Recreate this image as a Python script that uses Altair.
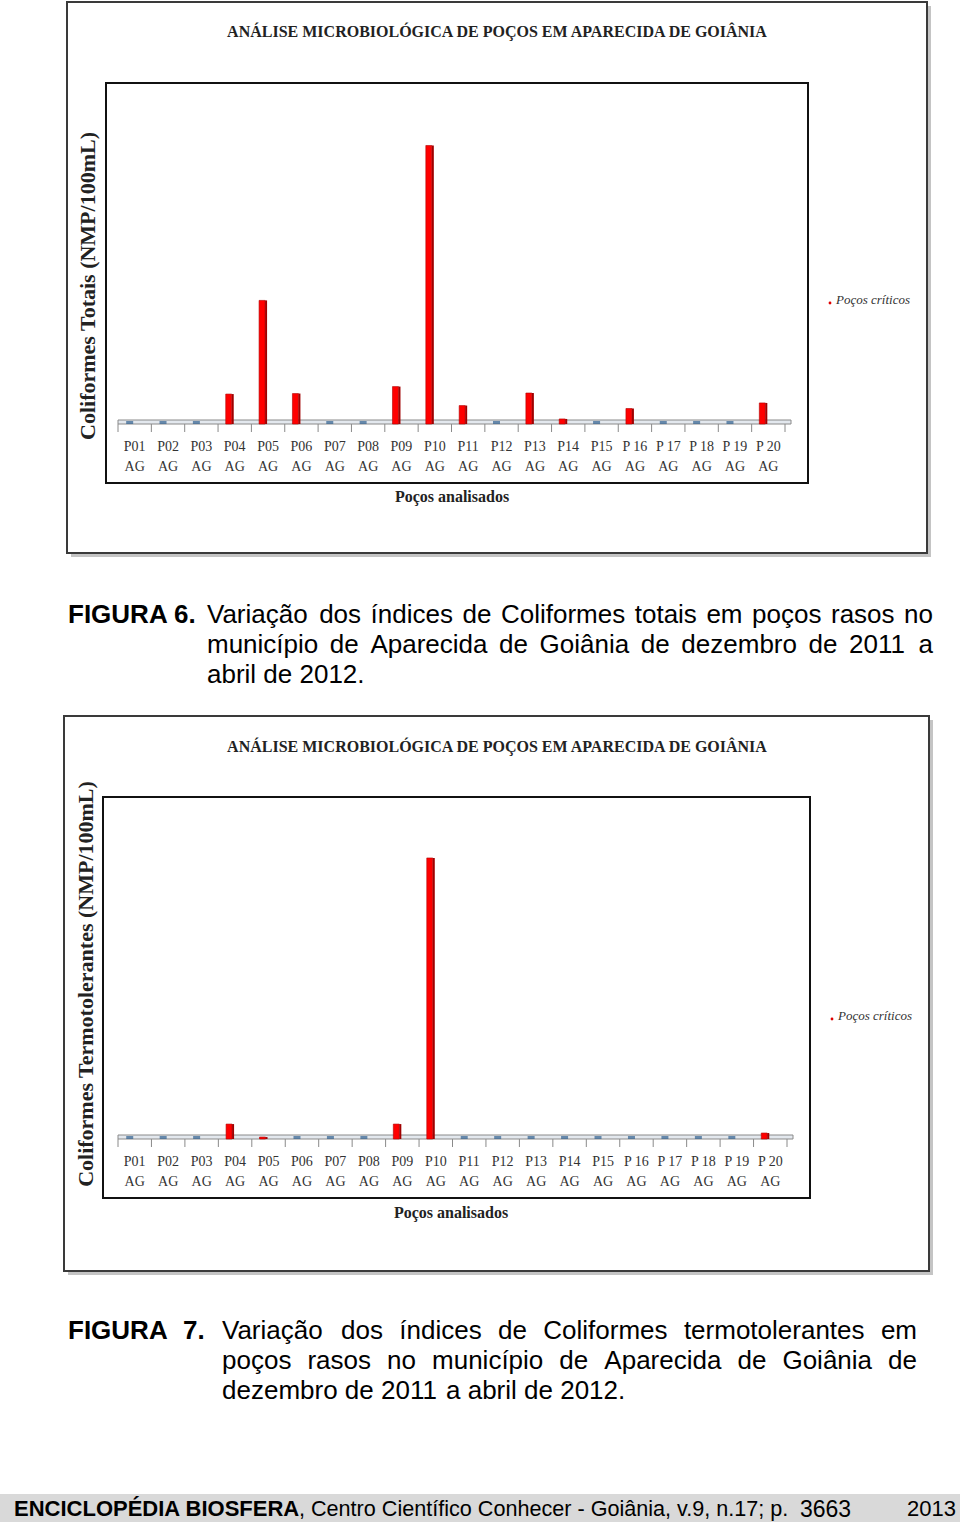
import altair as alt
import pandas as pd

# ---------------- data ----------------
wells = ["P01", "P02", "P03", "P04", "P05", "P06", "P07", "P08", "P09", "P10",
         "P11", "P12", "P13", "P14", "P15", "P 16", "P 17", "P 18", "P 19", "P 20"]
well_suffix = "AG"
# estimated NMP/100mL
coliformes_totais = [0, 0, 0, 172, 710, 175, 0, 0, 215, 1600,
                     106, 0, 178, 29, 0, 89, 0, 0, 0, 121]
coliformes_termo = [0, 0, 0, 85, 11, 0, 0, 0, 85, 1600,
                    0, 0, 0, 0, 0, 0, 0, 0, 0, 34]

chart_title = "ANÁLISE MICROBIOLÓGICA DE POÇOS EM APARECIDA DE GOIÂNIA"
y_title_1 = "Coliformes Totais (NMP/100mL)"
y_title_2 = "Coliformes Termotolerantes (NMP/100mL)"
x_title = "Poços analisados"
legend_text = "Poços críticos"

caption1_label = "FIGURA 6."
caption1_lines = ["Variação dos índices de Coliformes totais em poços rasos no",
                  "município de Aparecida de Goiânia de dezembro de 2011 a",
                  "abril de 2012."]
caption2_label = ["FIGURA", "7."]
caption2_lines = ["Variação dos índices de Coliformes termotolerantes em",
                  "poços rasos no município de Aparecida de Goiânia de",
                  "dezembro de 2011 a abril de 2012."]
footer_bold = "ENCICLOPÉDIA BIOSFERA"
footer_regular = ", Centro Científico Conhecer - Goiânia, v.9, n.17; p."
footer_page = "3663"
footer_year = "2013"

SERIF = "Liberation Serif, Times New Roman, serif"
SANS = "Liberation Sans, Arial, sans-serif"

# Arial / Helvetica advance widths (1/1000 em) for justification
_W = {}
for chars, w in [("abdeghnopquáàâãéêóôõú0123456789", 556), ("cçksvxyz", 500),
                 ("ijl", 222), ("ftí .,;:/", 278), ("r-()", 333), ("m", 833), ("w", 722),
                 ("ABEKPSVXYÁÉ", 667), ("CDHNRU", 722), ("GOQÓ", 778), ("FTZ", 611),
                 ("I", 278), ("J", 500), ("L", 556), ("M", 833), ("W", 944)]:
    for ch in chars:
        _W.setdefault(ch, w)


def text_width(s, size):
    return sum(_W.get(ch, 556) for ch in s) * size / 1000.0


def justify(line, x0, x1, size, y, full=True):
    words = line.split(" ")
    widths = [text_width(w, size) for w in words]
    if full and len(words) > 1:
        gap = (x1 - x0 - sum(widths)) / (len(words) - 1)
    else:
        gap = text_width(" ", size)
    rows, x = [], x0
    for w, wd in zip(words, widths):
        rows.append((w, x, y))
        x += wd + gap
    return rows


ONE = pd.DataFrame({"k": [0]})


def make_panel(values, y_title, W, H, D, OX, OY, outer, inner, title_y,
               ytitle_pos, xtitle_pos, legend_pos, extra_words=None,
               extra_layers=None, page=False):
    X = lambda a: a - OX
    Y = lambda b: b - OY

    def rect(x1, x2, y1, y2, **kw):
        return alt.Chart(ONE).mark_rect(**kw).encode(
            x=alt.value(X(x1)), x2=alt.value(X(x2)),
            y=alt.value(Y(y1)), y2=alt.value(Y(y2)))

    def text(t, x, y, **kw):
        return alt.Chart(ONE).mark_text(text=t, **kw).encode(
            x=alt.value(X(x)), y=alt.value(Y(y)))

    step = W / len(wells)
    df = pd.DataFrame({"label": [f"{w}|{well_suffix}" for w in wells],
                       "value": values})
    xenc = alt.X("label:N", sort=None,
                 scale=alt.Scale(paddingInner=0, paddingOuter=0),
                 axis=alt.Axis(title=None, domain=False, ticks=False, grid=False,
                               labelAngle=0, labelExpr="split(datum.value, '|')",
                               labelFont=SERIF, labelFontSize=14, labelColor="#333",
                               labelPadding=15, labelLineHeight=20, zindex=2,
                               labelOverlap=False, labelFlush=False, labelLimit=0))
    yenc = alt.Y("value:Q", scale=alt.Scale(domain=[0, D]), axis=None)
    base = alt.Chart(df)

    layers = []
    if page:
        layers.append(rect(0, 960, 0, 1522, fill="white"))
    ox1, ox2, oy1, oy2 = outer
    layers.append(rect(ox1 + 4, ox2 + 4, oy1 + 4, oy2 + 4, fill="#c4c4c4"))
    layers.append(rect(ox1, ox2, oy1, oy2, fill="white", stroke="#3a3a3a", strokeWidth=2))
    ix1, ix2, iy1, iy2 = inner
    layers.append(rect(ix1, ix2, iy1, iy2, fill="white", stroke="#111", strokeWidth=2))
    # 3-D floor of the chart
    layers.append(alt.Chart(ONE).mark_rect(fill="#e3e8ee", stroke="#8a8a8a", strokeWidth=1).encode(
        x=alt.value(0), x2=alt.value(W + 6), y=alt.value(H - 4), y2=alt.value(H)))
    layers.append(base.mark_rule(color="#8a8a8a", xOffset=-step / 2).encode(
        x=xenc, y=alt.value(H), y2=alt.value(H + 8)))
    layers.append(base.transform_filter(f"datum.label == '{wells[-1]}|{well_suffix}'")
                  .mark_rule(color="#8a8a8a", xOffset=step / 2).encode(
        x=xenc, y=alt.value(H), y2=alt.value(H + 8)))
    # non-critical wells: flat blue marks on the floor
    layers.append(base.transform_filter("datum.value == 0").mark_tick(
        color="#2f5f8f", thickness=3, size=7, xOffset=-5, yOffset=-1.5).encode(x=xenc, y=yenc))
    # critical wells: red 3-D bars
    layers.append(base.transform_filter("datum.value > 0").mark_bar(
        color="#ff0000", size=6, xOffset=-6, stroke="#b00000", strokeWidth=0.6).encode(x=xenc, y=yenc))
    layers.append(base.transform_filter("datum.value > 0").mark_bar(
        color="#a00000", size=2, xOffset=-2).encode(x=xenc, y=yenc))

    layers.append(text(chart_title, 497, title_y, font=SERIF, fontSize=16, fontWeight="bold",
                       align="center", baseline="middle", color="#222"))
    layers.append(text(y_title, ytitle_pos[0], ytitle_pos[1], font=SERIF, fontSize=22,
                       fontWeight="bold", angle=270, align="center", baseline="middle",
                       color="#222"))
    layers.append(text(x_title, xtitle_pos[0], xtitle_pos[1], font=SERIF, fontSize=16,
                       fontWeight="bold", align="center", baseline="middle", color="#222"))
    lx, ly = legend_pos
    layers.append(alt.Chart(ONE).mark_point(filled=True, color="#e00000", size=8, opacity=1).encode(
        x=alt.value(X(lx)), y=alt.value(Y(ly + 3))))
    layers.append(text(legend_text, lx + 6, ly, font=SERIF, fontSize=13, fontStyle="italic",
                       align="left", baseline="middle", color="#333"))

    for rows, size, bold in (extra_words or []):
        wdf = pd.DataFrame([(w, X(x), Y(y)) for w, x, y in rows], columns=["w", "x", "y"])
        layers.append(alt.Chart(wdf).mark_text(
            align="left", baseline="alphabetic", font=SANS, fontSize=size,
            fontWeight="bold" if bold else "normal", color="black").encode(
            text="w:N", x=alt.X("x:Q", scale=None, axis=None),
            y=alt.Y("y:Q", scale=None, axis=None)))
    for fn in (extra_layers or []):
        layers.append(fn(rect, text))
    return alt.layer(*layers).properties(width=W, height=H)


CAP = 26
cap1_words = [
    ([(caption1_label, 68, 623)], CAP, True),
    (justify(caption1_lines[0], 207, 933, CAP, 623)
     + justify(caption1_lines[1], 207, 933, CAP, 653)
     + justify(caption1_lines[2], 207, 933, CAP, 683, full=False), CAP, False),
]
cap2_words = [
    ([(caption2_label[0], 68, 1339), (caption2_label[1], 183, 1339)], CAP, True),
    (justify(caption2_lines[0], 222, 917, CAP, 1339)
     + justify(caption2_lines[1], 222, 917, CAP, 1369)
     + justify(caption2_lines[2], 222, 917, CAP, 1399, full=False), CAP, False),
]


def footer(rect, text):
    return alt.layer(
        rect(0, 960, 1494, 1522, fill="#d9d9d9"),
        text(footer_bold, 14, 1516, font=SANS, fontSize=22, fontWeight="bold",
             align="left", baseline="alphabetic", color="black"),
        text(footer_regular, 299, 1516, font=SANS, fontSize=21.6,
             align="left", baseline="alphabetic", color="black"),
        text(footer_page, 800, 1517, font=SANS, fontSize=23,
             align="left", baseline="alphabetic", color="black"),
        text(footer_year, 956, 1516, font=SANS, fontSize=22,
             align="right", baseline="alphabetic", color="black"),
    )


p1 = make_panel(coliformes_totais, y_title_1, W=667, H=341, D=1959, OX=118, OY=83,
                outer=(67, 927, 2, 553), inner=(106, 808, 83, 483), title_y=32,
                ytitle_pos=(88, 286), xtitle_pos=(452, 497), legend_pos=(830, 300),
                extra_words=cap1_words, page=True)
p2 = make_panel(coliformes_termo, y_title_2, W=669, H=342, D=1947, OX=118, OY=797,
                outer=(64, 929, 716, 1271), inner=(103, 810, 797, 1198), title_y=747,
                ytitle_pos=(86, 984), xtitle_pos=(451, 1213), legend_pos=(832, 1016),
                extra_words=cap2_words, extra_layers=[footer])

chart = alt.vconcat(p1, p2, spacing=373, bounds="flush").properties(
    padding=0, background="white").configure_view(stroke=None)

chart.save("out.html", embed_options={"renderer": "svg", "actions": False})
